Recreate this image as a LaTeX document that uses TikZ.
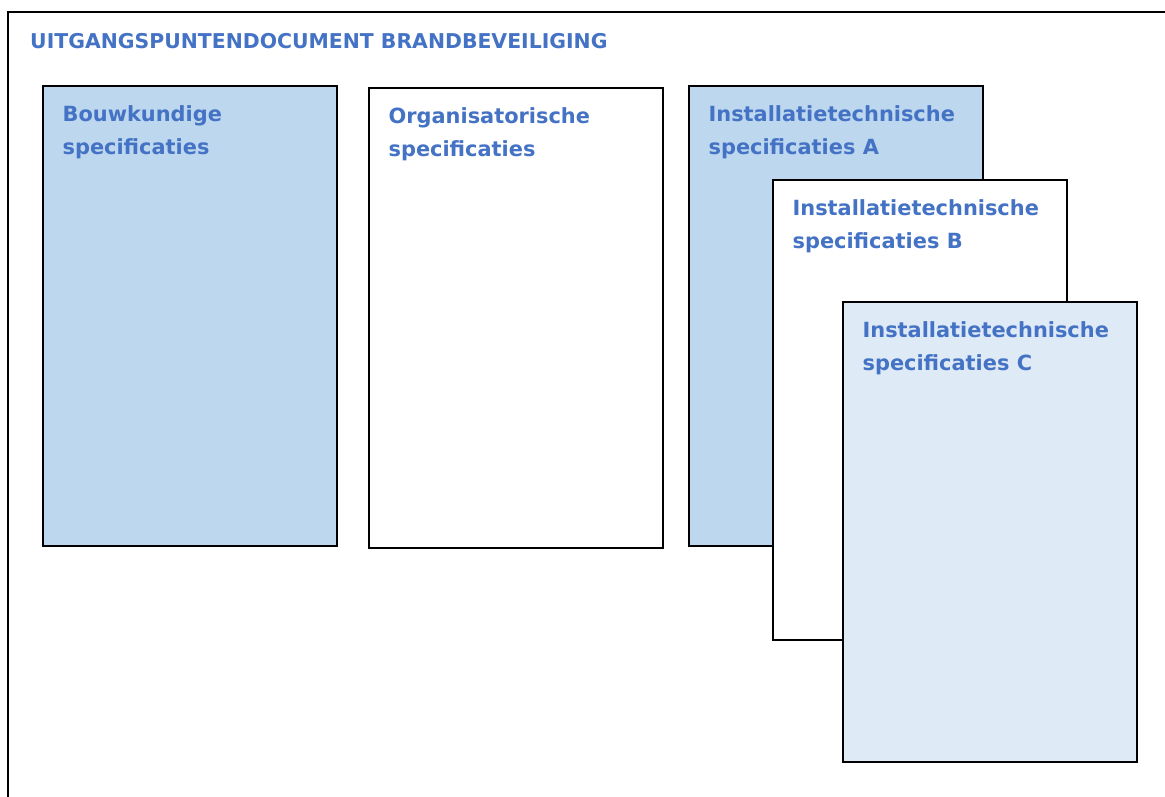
\documentclass[tikz,border=0pt]{standalone}
\usepackage{fontspec}
\setmainfont{DejaVu Sans}
\usetikzlibrary{positioning}
\usepackage{xcolor}
\definecolor{specblue}{HTML}{BDD7EE}
\definecolor{speclight}{HTML}{DEEAF6}
\definecolor{spectext}{HTML}{4472C4}

\begin{document}
\begin{tikzpicture}[x=1pt, y=-1pt,
    specbox/.style={
        rectangle,
        draw=black,
        line width=1.2pt,
        minimum width=294pt,
        minimum height=460pt,
        inner sep=0pt
    },
    spectitle/.style={
        anchor=base west,
        inner sep=0pt,
        align=left,
        text=spectext,
        font=\fontsize{20.9}{33}\selectfont\bfseries
    }
]
    \clip (0,0) rectangle (1165,797);
    \fill[white] (0,0) rectangle (1165,797);

    %frame
    \draw[line width=2.5pt] (8,830) -- (8,12) -- (1200,12);

    \node (document_title) [spectitle, font=\fontsize{20.4}{33}\selectfont\bfseries, shift={(30, 49)}]
    {
        UITGANGSPUNTENDOCUMENT BRANDBEVEILIGING
    };

    %boxes and texts (last line baseline is the node base)
    \node (bouwkundig_box) [specbox, fill=specblue, shift={(190, 316)}] {};
    \node (bouwkundig_txt) [spectitle] at ([shift={(20, 69)}]bouwkundig_box.north west)
    {
        Bouwkundige\\specificaties
    };

    \node (organisatorisch_box) [specbox, fill=white, shift={(516, 318)}] {};
    \node (organisatorisch_txt) [spectitle] at ([shift={(20, 69)}]organisatorisch_box.north west)
    {
        Organisatorische\\specificaties
    };

    \node (installatie_a_box) [specbox, fill=specblue, shift={(836, 316)}] {};
    \node (installatie_a_txt) [spectitle] at ([shift={(20, 69)}]installatie_a_box.north west)
    {
        Installatietechnische\\specificaties A
    };

    \node (installatie_b_box) [specbox, fill=white, shift={(920, 410)}] {};
    \node (installatie_b_txt) [spectitle] at ([shift={(20, 69)}]installatie_b_box.north west)
    {
        Installatietechnische\\specificaties B
    };

    \node (installatie_c_box) [specbox, fill=speclight, shift={(990, 532)}] {};
    \node (installatie_c_txt) [spectitle] at ([shift={(20, 69)}]installatie_c_box.north west)
    {
        Installatietechnische\\specificaties C
    };

\end{tikzpicture}
\end{document}
